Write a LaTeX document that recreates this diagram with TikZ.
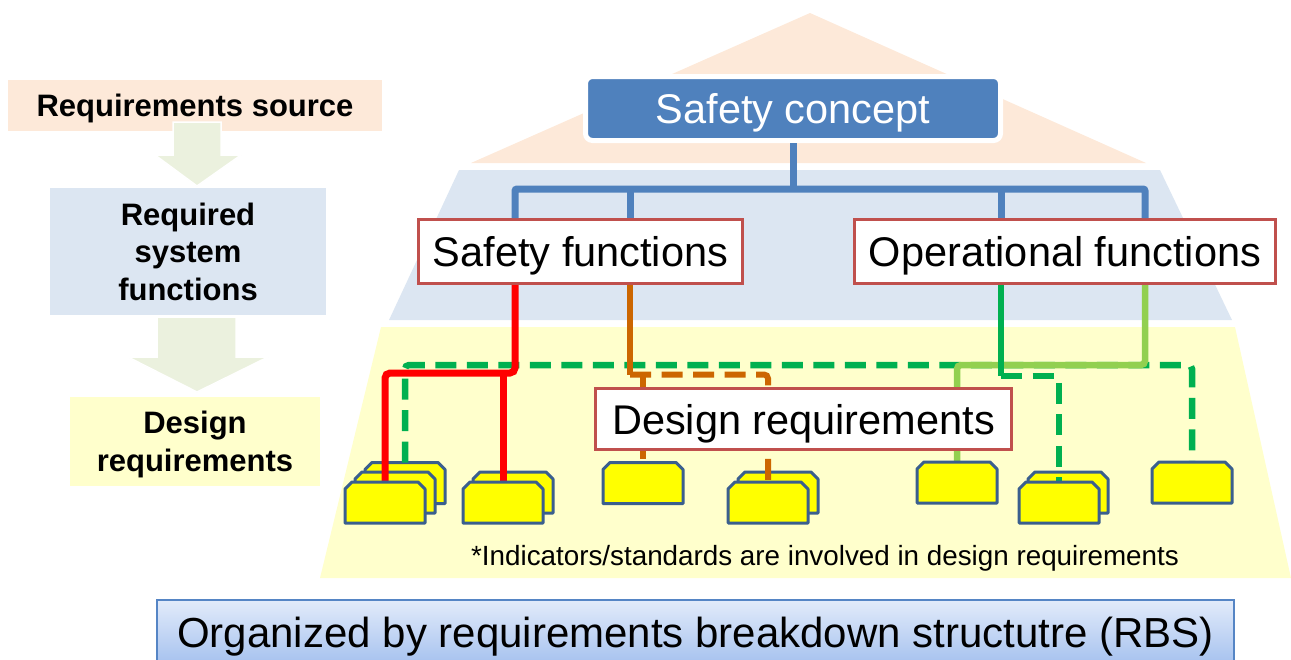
\documentclass[tikz,border=0pt]{standalone}
\usepackage{fontspec}
\setmainfont{Liberation Sans}
\usetikzlibrary{calc}

\definecolor{peach}{HTML}{FDE9D9}
\definecolor{tierblue}{HTML}{DCE6F2}
\definecolor{tieryellow}{HTML}{FFFFCC}
\definecolor{arrowgreen}{HTML}{EBF1DE}
\definecolor{conceptblue}{HTML}{4F81BD}
\definecolor{boxred}{HTML}{C0504D}
\definecolor{boxyellow}{HTML}{FFFF00}
\definecolor{boxedge}{HTML}{3A5F8E}
\definecolor{linered}{HTML}{FF0000}
\definecolor{lineorange}{HTML}{CC6600}
\definecolor{linegreen}{HTML}{00B050}
\definecolor{linelime}{HTML}{92D050}
\definecolor{rbstop}{HTML}{E2EBFA}
\definecolor{rbsbottom}{HTML}{A6C2EF}
\definecolor{rbsedge}{HTML}{5585C5}

\newcommand\sizeMain{\fontsize{41.5}{48}\selectfont}
\newcommand\sizeTier{\bfseries\fontsize{31}{37.5}\selectfont}

% outline of a yellow element with its two top corners cut off
\newcommand\snipdraw[1]{%
  \filldraw[snipline] (#1.south west) -- ([yshift=-7pt]#1.north west)
    -- ([xshift=7pt]#1.north west) -- ([xshift=-7pt]#1.north east)
    -- ([yshift=-7pt]#1.north east) -- (#1.south east) -- cycle;
}

\begin{document}
\begin{tikzpicture}[x=1pt,y=-1pt,
  tier/.style={rectangle, inner sep=0, align=center, font=\sizeTier, text depth=0pt},
  blockarrow/.style={fill=arrowgreen, draw=white, line width=1.5pt, line join=miter},
  conceptbox/.style={rectangle, rounded corners=7pt, fill=conceptblue, draw=white,
    line width=5pt, minimum width=415pt, minimum height=64pt, inner sep=0,
    text=white, font=\sizeMain, text depth=0pt},
  funcbox/.style={rectangle, fill=white, draw=boxred, line width=3pt,
    minimum height=64pt, inner sep=0, font=\sizeMain, text depth=0pt},
  snipbase/.style={rectangle, minimum width=80pt, minimum height=41pt, inner sep=0, outer sep=0},
  snipline/.style={fill=boxyellow, draw=boxedge, line width=3pt, line join=round},
  blueline/.style={draw=conceptblue, line width=7pt},
  redline/.style={draw=linered, line width=7pt, rounded corners=5pt},
  orangeline/.style={draw=lineorange, line width=6pt, rounded corners=4pt},
  greenline/.style={draw=linegreen, line width=6.5pt, rounded corners=4pt},
  limeline/.style={draw=linelime, line width=6.5pt, rounded corners=4pt},
  dashline/.style={dash pattern=on 21pt off 10.5pt},
  rbsbox/.style={rectangle, draw=rbsedge, line width=2pt, top color=rbstop,
    bottom color=rbsbottom, minimum width=1077pt, minimum height=64pt, inner sep=0,
    font=\fontsize{42}{48}\selectfont, text depth=0pt},
]
\useasboundingbox (0,0) rectangle (1291,659);
\clip (0,0) rectangle (1291,659);

% three-tier pyramid behind the tree
\fill[peach] (810,13) -- (1146,163) -- (471,163) -- cycle;
\fill[tierblue] (459,170) -- (1160,170) -- (1232,320) -- (389,320) -- cycle;
\fill[tieryellow] (381,327) -- (1235,327) -- (1291,578) -- (320,578) -- cycle;

% left column: source -> functions -> design requirements
\node[tier, fill=peach, minimum width=374pt, minimum height=51pt] (src) at (195,105.5) {Requirements source};
\node[tier, fill=tierblue, minimum width=276pt, minimum height=127pt] (sysf) at (188,251.5) {Required\\system\\functions};
\node[tier, fill=tieryellow, minimum width=250pt, minimum height=89pt] (dreqs) at (195,441.5) {Design\\requirements};
\filldraw[blockarrow] (173,122) -- (221,122) -- (221,155) -- (241,155) -- (197,186)
  -- (155,155) -- (173,155) -- cycle;
\filldraw[blockarrow] (157,317) -- (236,317) -- (236,357) -- (268,357) -- (197,392)
  -- (128,357) -- (157,357) -- cycle;

% tree nodes
\node[conceptbox] (sc) at (793,108.5) {Safety concept};
\node[funcbox, minimum width=324pt] (sf) at (580.5,251.5) {Safety functions};
\node[funcbox, minimum width=421pt] (of) at (1065,251.5) {Operational functions};

% places of the design elements (stacks: c/b behind, a in front)
\node[snipbase] (b1c) at (405,483) {};
\node[snipbase] (b1b) at (395,492.5) {};
\node[snipbase] (b1a) at (385,502.5) {};
\node[snipbase] (b2b) at (513,492.5) {};
\node[snipbase] (b2a) at (503,502.5) {};
\node[snipbase] (b3) at (643,483) {};
\node[snipbase] (b4b) at (778,492.5) {};
\node[snipbase] (b4a) at (768,502.5) {};
\node[snipbase] (b5) at (957,482.5) {};
\node[snipbase] (b6b) at (1068,492.5) {};
\node[snipbase] (b6a) at (1059,502.5) {};
\node[snipbase] (b7) at (1192,482.5) {};

% branch points
\coordinate (sfb1) at (515,189);
\coordinate (sfb2) at (630,189);
\coordinate (ofb1) at (1001,189);
\coordinate (ofb2) at (1145,189);
\coordinate (rj) at (515,373);
\coordinate (oj) at (630,374.5);
\coordinate (gj) at (405,365);
\coordinate (dj) at (1001,376);
\coordinate (lj) at (1145,365);

\draw[blueline] (sc.south) -- (sc.south |- sfb1);
\draw[blueline, rounded corners=2pt] (sf.north -| sfb1) -- (sfb1) -- (ofb2) -- (of.north -| ofb2);
\draw[blueline] (sf.north -| sfb2) -- (sfb2);
\draw[blueline] (of.north -| ofb1) -- (ofb1);

% elements partly hidden behind others
\snipdraw{b1c}
\snipdraw{b1b}
\snipdraw{b2b}
\snipdraw{b4b}
\snipdraw{b6b}

% connectors from the functions to the design elements
\draw[greenline, dashline] (b1c.north) -- (gj) -| (b7.north);
\draw[limeline] (of.south -| lj) -- (lj) -| (b5.north);
\draw[greenline] (of.south -| dj) -- (dj);
\draw[greenline, dashline] (dj) -| (b6a.north);
\draw[redline] (sf.south -| rj) -- (rj) -| (b1a.north);
\draw[redline] (b2a.north |- rj) -- (b2a.north);
\draw[orangeline] (sf.south -| oj) -- (oj);
\draw[orangeline, dashline] (oj) -| (b4a.north);
\draw[orangeline, dashline] (b3.north |- oj) -- (b3.north);

% design requirements label over the connectors
\node[funcbox, minimum width=416pt, minimum height=61pt] (dr) at (803.5,419) {Design requirements};

% front elements
\snipdraw{b1a}
\snipdraw{b2a}
\snipdraw{b3}
\snipdraw{b4a}
\snipdraw{b5}
\snipdraw{b6a}
\snipdraw{b7}

\node[inner sep=0, anchor=base, font=\fontsize{27.8}{32}\selectfont] (note) at (825,565)
  {*Indicators/standards are involved in design requirements};

\node[rbsbox] (rbs) at (695.5,632) {Organized by requirements breakdown structutre (RBS)};
\end{tikzpicture}
\end{document}
